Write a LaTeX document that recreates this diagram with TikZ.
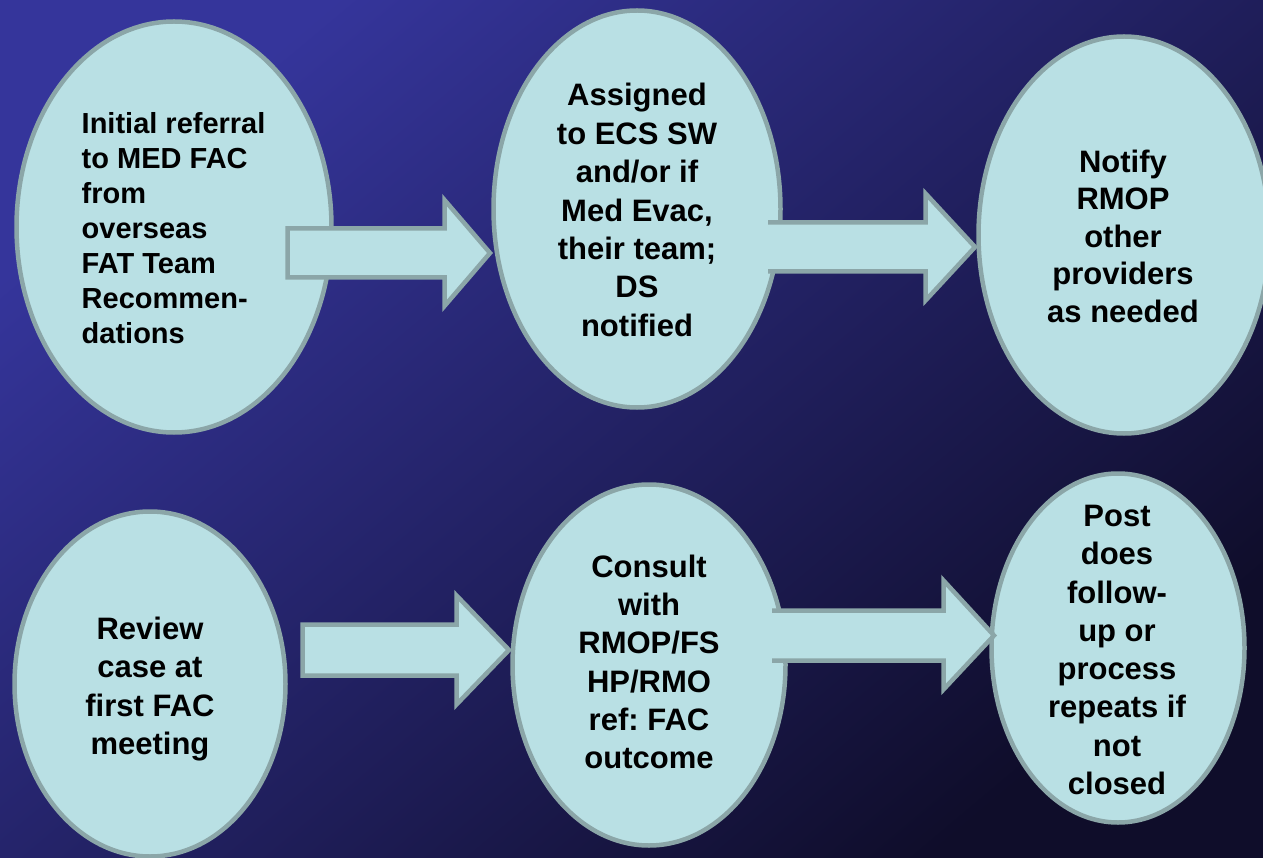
\documentclass[tikz,border=0pt]{standalone}
\usepackage{fontspec}
\setmainfont{Liberation Sans}
\usetikzlibrary{shapes.geometric}
\definecolor{bgA}{HTML}{35359B}
\definecolor{bgB}{HTML}{28287A}
\definecolor{bgC}{HTML}{0F0D2A}
\definecolor{cfill}{HTML}{B9E0E4}
\definecolor{cline}{HTML}{8BA6A8}
\frenchspacing
\begin{document}
\begin{tikzpicture}[x=1pt,y=-1pt,
  ell/.style={ellipse, draw=cline, fill=cfill, line width=4.5pt, inner sep=0pt, outer sep=0pt},
  lbl/.style={inner sep=0pt, align=center, text=black, font=\bfseries\fontsize{31}{38.3}\selectfont},
  afill/.style={fill=cfill},
  aline/.style={draw=cline, line width=4.5pt, line join=miter}]
\useasboundingbox (0,0) rectangle (1263,858);
\shade[top color=bgA, middle color=bgB, bottom color=bgC, shading angle=40] (0,0) rectangle (1263,858);

% ellipses
\node[ell, minimum width=315pt, minimum height=411pt] (e1) at (174,227) {};
\node[ell, minimum width=287pt, minimum height=397pt] (e2) at (637,209) {};
\node[ell, minimum width=291pt, minimum height=397pt] (e3) at (1124,235) {};
\node[ell, minimum width=271pt, minimum height=345pt] (e4) at (150,684) {};
\node[ell, minimum width=273pt, minimum height=361pt] (e5) at (649,665) {};
\node[ell, minimum width=253pt, minimum height=349pt] (e6) at (1118,648) {};

% block arrows
% arrow 1 (e1 -> e2)
\path[afill, aline] (287.5,228.5) -- (444.5,228.5) -- (444.5,200) -- (490,253) -- (444.5,306) -- (444.5,277.5) -- (287.5,277.5) -- cycle;
% arrow 2 (e2 -> e3), tail hidden inside e2
\fill[afill] (768,222.5) -- (925.5,222.5) -- (925.5,193.5) -- (975,247) -- (925.5,300.5) -- (925.5,271.5) -- (768,271.5) -- cycle;
\draw[aline] (768,222.5) -- (925.5,222.5) -- (925.5,193.5) -- (975,247) -- (925.5,300.5) -- (925.5,271.5) -- (768,271.5);
% arrow 3 (e4 -> e5)
\path[afill, aline] (302.5,624.5) -- (456.5,624.5) -- (456.5,595.5) -- (509,650) -- (456.5,704.5) -- (456.5,675.5) -- (302.5,675.5) -- cycle;
% arrow 4 (e5 -> e6), tail hidden inside e5
\fill[afill] (772,610.5) -- (943.5,610.5) -- (943.5,580.5) -- (994,635.5) -- (943.5,689.5) -- (943.5,660.5) -- (772,660.5) -- cycle;
\draw[aline] (772,610.5) -- (943.5,610.5) -- (943.5,580.5) -- (994,635.5) -- (943.5,689.5) -- (943.5,660.5) -- (772,660.5);

% labels
\node[lbl, align=left, anchor=west, font=\bfseries\fontsize{29}{35.1}\selectfont] (t1) at (81.5,228)
  {Initial referral\\to MED FAC\\from\\overseas\\FAT Team\\Recommen-\\dations};
\node[lbl, font=\bfseries\fontsize{31}{38.4}\selectfont] (t2) at (637,210)
  {Assigned\\to ECS SW\\and/or if\\Med Evac,\\their team;\\DS\\notified};
\node[lbl, font=\bfseries\fontsize{31}{37.5}\selectfont] (t3) at (1123,236)
  {Notify\\RMOP\\other\\providers\\as needed};
\node[lbl] (t4) at (150,689)
  {Review\\case at\\first FAC\\meeting};
\node[lbl] (t5) at (649,662)
  {Consult\\with\\RMOP/FS\\HP/RMO\\ref: FAC\\outcome};
\node[lbl] (t6) at (1117,650)
  {Post\\does\\follow-\\up or\\process\\repeats if\\not\\closed};
\end{tikzpicture}
\end{document}
